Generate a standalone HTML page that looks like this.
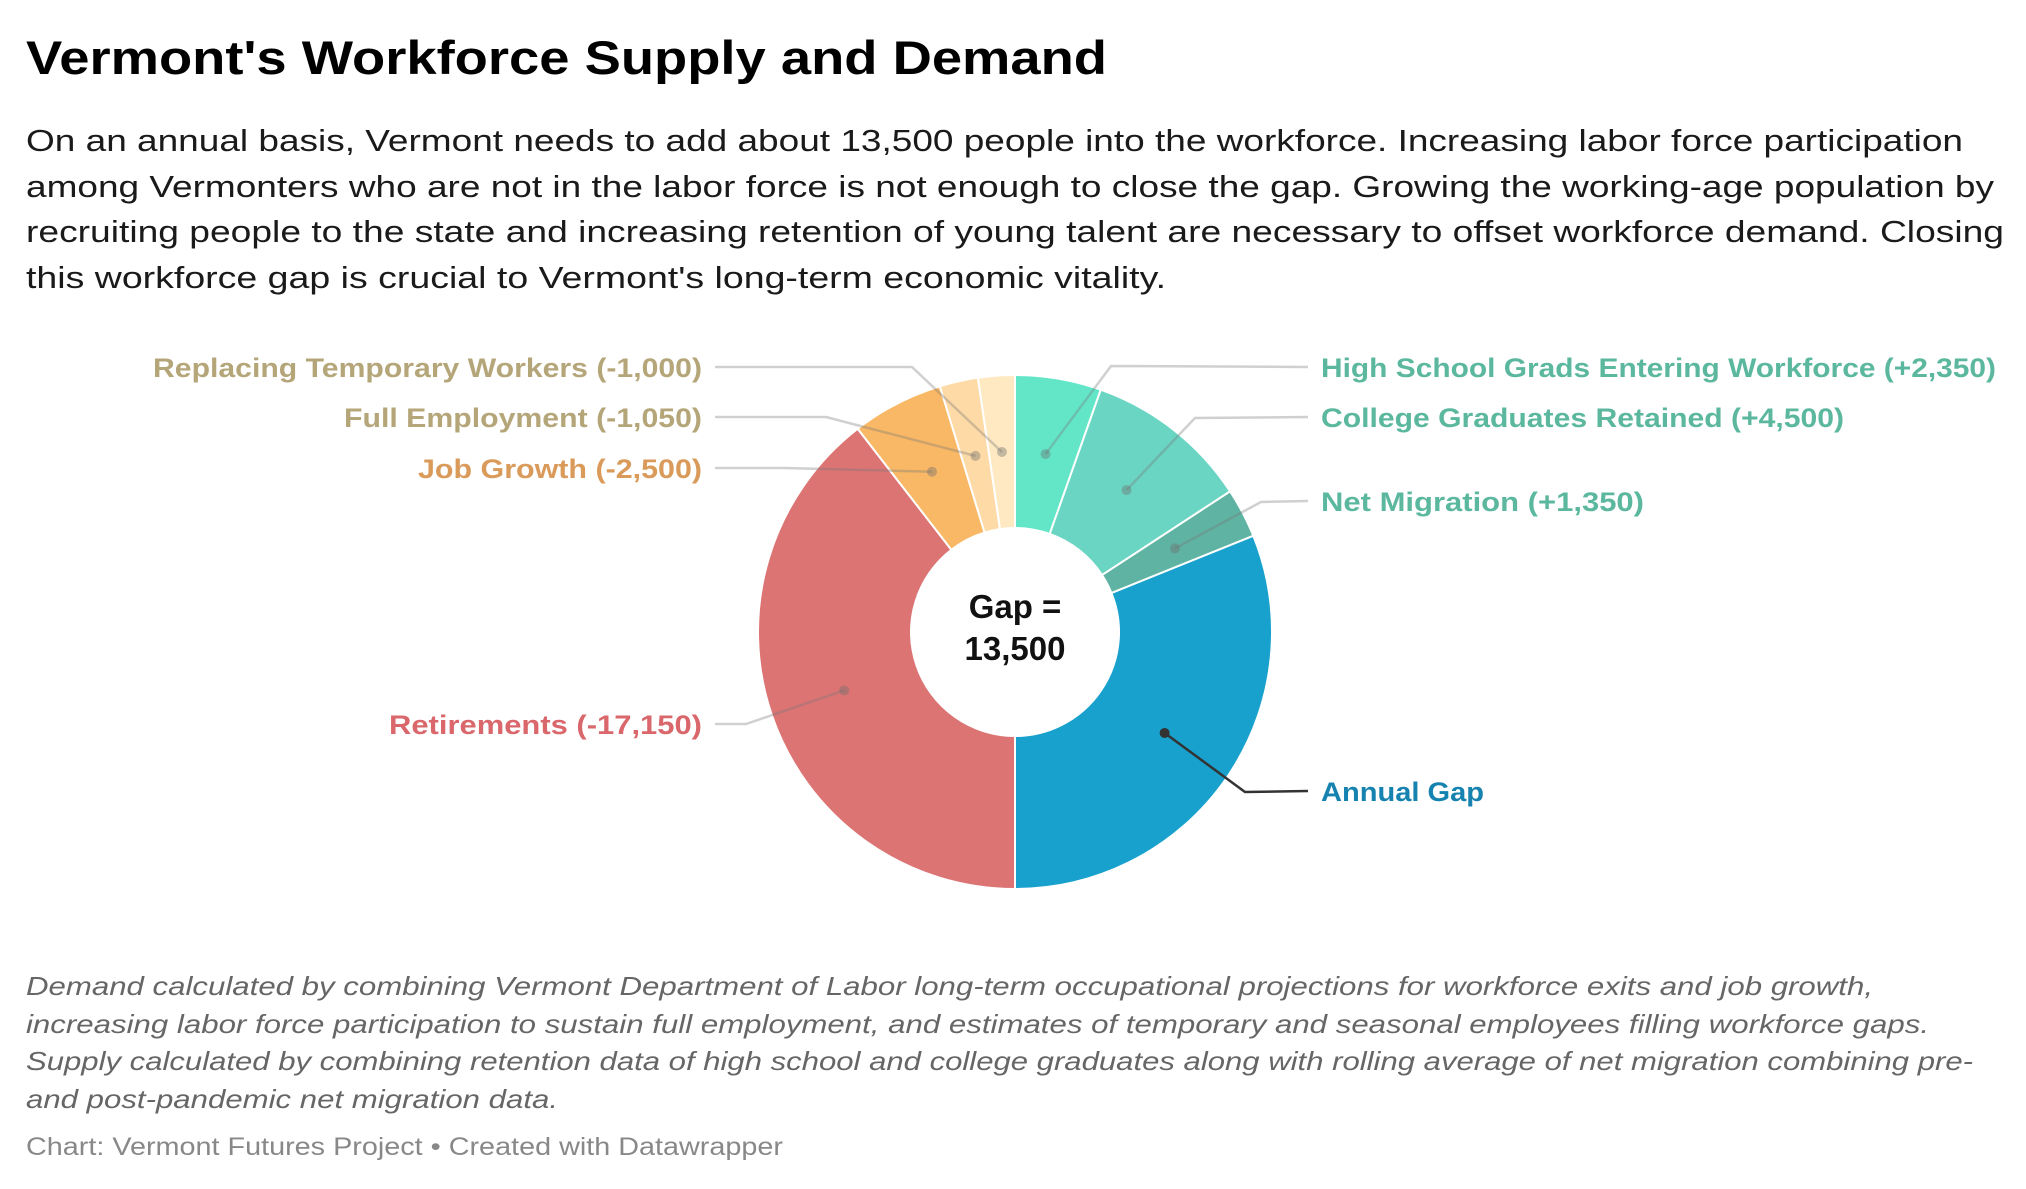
<!DOCTYPE html>
<html><head><meta charset="utf-8"><style>
html,body{margin:0;padding:0;background:#fff;}
svg{display:block;font-family:"Liberation Sans",Arial,sans-serif;}
</style></head><body>
<svg id="chart" width="2026" height="1189" viewBox="0 0 2026 1189">
<text x="26" y="74" font-size="47" font-weight="bold" fill="#000" textLength="1081" lengthAdjust="spacingAndGlyphs">Vermont's Workforce Supply and Demand</text>
<g font-size="31" fill="#1a1a1a">
<text x="26" y="151" textLength="1937" lengthAdjust="spacingAndGlyphs">On an annual basis, Vermont needs to add about 13,500 people into the workforce. Increasing labor force participation</text>
<text x="26" y="197" textLength="1968" lengthAdjust="spacingAndGlyphs">among Vermonters who are not in the labor force is not enough to close the gap. Growing the working-age population by</text>
<text x="26" y="242" textLength="1978" lengthAdjust="spacingAndGlyphs">recruiting people to the state and increasing retention of young talent are necessary to offset workforce demand. Closing</text>
<text x="26" y="288" textLength="1140" lengthAdjust="spacingAndGlyphs">this workforce gap is crucial to Vermont's long-term economic vitality.</text>
</g>
<g id="pie"></g>
<g id="leaders"></g>
<g id="labels" font-size="27" font-weight="bold"></g>
<text x="1015" y="618" font-size="33" font-weight="bold" text-anchor="middle" fill="#111">Gap =</text>
<text x="1015" y="660" font-size="33" font-weight="bold" text-anchor="middle" fill="#111">13,500</text>
<g font-size="26" font-style="italic" fill="#666">
<text x="26" y="995" textLength="1847" lengthAdjust="spacingAndGlyphs">Demand calculated by combining Vermont Department of Labor long-term occupational projections for workforce exits and job growth,</text>
<text x="26" y="1033" textLength="1903" lengthAdjust="spacingAndGlyphs">increasing labor force participation to sustain full employment, and estimates of temporary and seasonal employees filling workforce gaps.</text>
<text x="26" y="1070" textLength="1947" lengthAdjust="spacingAndGlyphs">Supply calculated by combining retention data of high school and college graduates along with rolling average of net migration combining pre-</text>
<text x="26" y="1108" textLength="532" lengthAdjust="spacingAndGlyphs">and post-pandemic net migration data.</text>
</g>
<text x="26" y="1155" font-size="25" fill="#888" textLength="757" lengthAdjust="spacingAndGlyphs">Chart: Vermont Futures Project • Created with Datawrapper</text>
</svg>
<script>
const categories = ["High School Grads Entering Workforce","College Graduates Retained","Net Migration","Annual Gap","Retirements","Job Growth","Full Employment","Replacing Temporary Workers"];
const values = [2350, 4500, 1350, 13500, 17150, 2500, 1050, 1000];
const valueLabels = ["(+2,350)","(+4,500)","(+1,350)","","(-17,150)","(-2,500)","(-1,050)","(-1,000)"];
const colors = ["#63e6c8","#6ad5c3","#5fb3a2","#18a1cd","#dc7474","#f9b865","#fddaa6","#fee9c2"];

const NS="http://www.w3.org/2000/svg";
const cx=1015, cy=632, R=257, r0=104;
const total=values.reduce((a,b)=>a+b,0);
function angleScale(v){return v/total*Math.PI*2;}
function pt(a,rad){return [cx+rad*Math.sin(a), cy-rad*Math.cos(a)];}
const pie=document.getElementById('pie'), leaders=document.getElementById('leaders'), labels=document.getElementById('labels');
const layout=[
 {side:1,y:367,knee:[1111,366],col:"#5bb89e",w:675},
 {side:1,y:417,knee:[1195,418],col:"#5bb89e",w:523},
 {side:1,y:501,knee:[1261,502],col:"#5bb89e",w:323},
 {side:1,y:791,knee:[1245,792],col:"#1582b0",w:163,dark:true},
 {side:-1,y:724,knee:[746,724],col:"#d9676b",w:313},
 {side:-1,y:468,knee:[784,468],col:"#d99a5a",w:284},
 {side:-1,y:417,knee:[826,417],col:"#b5a67a",w:358},
 {side:-1,y:367,knee:[912,367],col:"#b5a67a",w:549}
];
let a=0;
values.forEach((v,i)=>{
  const a1=a+angleScale(v);
  const [x0,y0]=pt(a,R),[x1,y1]=pt(a1,R),[x2,y2]=pt(a1,r0),[x3,y3]=pt(a,r0);
  const large=(a1-a)>Math.PI?1:0;
  const p=document.createElementNS(NS,'path');
  p.setAttribute('d',`M${x0},${y0}A${R},${R} 0 ${large} 1 ${x1},${y1}L${x2},${y2}A${r0},${r0} 0 ${large} 0 ${x3},${y3}Z`);
  p.setAttribute('fill',colors[i]);p.setAttribute('stroke','#fff');p.setAttribute('stroke-width','2');
  
  
  pie.appendChild(p);
  const mid=(a+a1)/2;const [dx,dy]=pt(mid,(R+r0)/2);
  const L=layout[i];
  const endX=L.side>0?1308:715;
  const ln=document.createElementNS(NS,'polyline');
  ln.setAttribute('points',`${dx},${dy} ${L.knee[0]},${L.knee[1]} ${endX},${L.y}`);
  ln.setAttribute('fill','none');ln.setAttribute('stroke',L.dark?'#333':'rgba(120,120,120,0.35)');ln.setAttribute('stroke-width','2.5');
  
  
  leaders.appendChild(ln);
  const c=document.createElementNS(NS,'circle');
  c.setAttribute('cx',dx);c.setAttribute('cy',dy);c.setAttribute('r',5);c.setAttribute('fill',L.dark?'#333':'rgba(110,110,110,0.4)');
  
  
  leaders.appendChild(c);
  const t=document.createElementNS(NS,'text');
  t.textContent=categories[i]+(valueLabels[i]?' '+valueLabels[i]:'');
  t.setAttribute('x',L.side>0?1321:702);t.setAttribute('y',L.y+10);
  t.setAttribute('text-anchor',L.side>0?'start':'end');t.setAttribute('fill',L.col);
  t.setAttribute('textLength',L.w);t.setAttribute('lengthAdjust','spacingAndGlyphs');
  
  
  labels.appendChild(t);
  a=a1;
});
</script>
</body></html>
